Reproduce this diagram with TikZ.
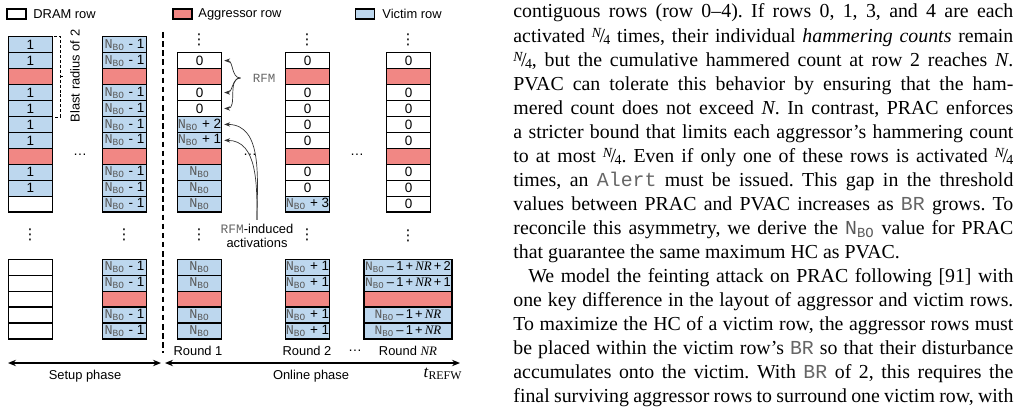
\documentclass[tikz,border=0pt]{standalone}
\usepackage{fontspec}
\setmainfont{Liberation Serif}
\setsansfont{Liberation Sans}
\setmonofont{Liberation Mono}
\newfontfamily\symfont{DejaVu Sans}
\usetikzlibrary{arrows.meta}
\definecolor{VictimBlue}{RGB}{189,215,238}
\definecolor{AggRed}{RGB}{241,135,132}
\colorlet{NboGray}{black!65}
\newcommand{\nbo}{{\ttfamily\color{NboGray}N\textsubscript{BO}}}
\newcommand{\nbm}{\nbo{} - 1}
\newcommand{\nbr}[1]{\nbo\,\textendash\,1\,+\,\textit{\rmfamily NR}#1}
\newcommand{\tw}[1]{{\ttfamily\color{black!60}#1}}
\newcommand{\qtr}{\raisebox{0.5ex}{\fontsize{7}{7}\selectfont\itshape N}\kern-0.08em/\kern-0.08em\raisebox{-0.3ex}{\fontsize{7}{7}\selectfont 4}}
\newcommand{\colpar}[1]{\parbox[t]{252pt}{\fontsize{10}{12.1}\selectfont\frenchspacing #1}}
\def\ytop{36.7}
\def\ylow{259.3}
\def\rh{15.95}
\tikzset{
  rowbox/.style={draw=black, line width=0.7pt, minimum width=22.2pt, minimum height=8.04pt,
    inner sep=0pt, font=\sffamily\fontsize{6.8}{8}\selectfont},
  dram/.style={rowbox, fill=white},
  vic/.style={rowbox, fill=VictimBlue},
  agg/.style={rowbox, fill=AggRed},
  wide/.style={minimum width=44.4pt, font=\sffamily\fontsize{6.5}{8}\selectfont},
  legbox/.style={draw=black, line width=0.7pt, minimum width=9.6pt, minimum height=5pt, inner sep=0pt},
  lab/.style={font=\sffamily\fontsize{6.5}{7}\selectfont, inner sep=0pt},
  dts/.style={font=\sffamily\fontsize{7}{8}\selectfont, inner sep=0pt},
  vdts/.style={font=\symfont\fontsize{7.5}{8}\selectfont, inner sep=0pt},
  brack/.style={dash pattern=on 1.5pt off 1pt, line width=0.4pt},
  sepline/.style={dash pattern=on 2.8pt off 1.8pt, line width=0.75pt},
  phase/.style={{Stealth[length=4pt,width=3.2pt]}-{Stealth[length=4pt,width=3.2pt]}, line width=0.7pt},
  curarr/.style={-{Stealth[length=3pt,width=2.2pt]}, line width=0.35pt, black!80},
  body/.style={inner sep=0pt, anchor=base west},
}
\begin{document}
\begin{tikzpicture}[x=0.504pt, y=-0.504pt]
  \useasboundingbox (0,0) rectangle (1017,407);
  % legend
  \node[legbox, fill=white] (legDram) at (16.5,14) {};
  \node[lab, anchor=west] (legDramT) at (33,14) {DRAM row};
  \node[legbox, fill=AggRed] (legAgg) at (182.5,14) {};
  \node[lab, anchor=west] (legAggT) at (198,14) {Aggressor row};
  \node[legbox, fill=VictimBlue] (legVic) at (365,14) {};
  \node[lab, anchor=west] (legVicT) at (382,14) {Victim row};
  % setup phase
  \foreach \k/\kind/\txt in {1/vic/1,2/vic/1,3/agg/{},4/vic/1,5/vic/1,6/vic/1,7/vic/1,8/agg/{},9/vic/1,10/vic/1,11/dram/{}}
    \node[\kind] (setA-\k) at (30.5,{\ytop+\rh*(\k-0.5)}) {\txt};
  \foreach \k/\kind/\txt in {1/vic/\nbm,2/vic/\nbm,3/agg/{},4/vic/\nbm,5/vic/\nbm,6/vic/\nbm,7/vic/\nbm,8/agg/{},9/vic/\nbm,10/vic/\nbm,11/vic/\nbm}
    \node[\kind] (setB-\k) at (124.5,{\ytop+\rh*(\k-0.5)}) {\txt};
  \foreach \k in {1,...,5}
    \node[dram] (setAlo-\k) at (30.5,{\ylow+\rh*(\k-0.5)}) {};
  \foreach \k/\kind/\txt in {1/vic/\nbm,2/vic/\nbm,3/agg/{},4/vic/\nbm,5/vic/\nbm}
    \node[\kind] (setBlo-\k) at (124.5,{\ylow+\rh*(\k-0.5)}) {\txt};
  % blast radius
  \draw[brack] ([xshift=0.5pt]setA-1.north east) -- ++(6,0) coordinate (bTop) |- ([xshift=0.5pt]setA-5.south east);
  \draw[brack] (bTop |- setA-3) -- ++(3.5,0);
  \node[lab, rotate=90] (blast) at (75,76) {Blast radius of 2};
  % online phase, upper rows
  \foreach \k/\kind/\txt in {2/dram/0,3/agg/{},4/dram/0,5/dram/0,6/vic/{\nbo{} + 2},7/vic/{\nbo{} + 1},8/agg/{},9/vic/\nbo,10/vic/\nbo,11/vic/\nbo}
    \node[\kind] (rndA-\k) at (199.5,{\ytop+\rh*(\k-0.5)}) {\txt};
  \foreach \k/\kind/\txt in {2/dram/0,3/agg/{},4/dram/0,5/dram/0,6/dram/0,7/dram/0,8/agg/{},9/dram/0,10/dram/0,11/vic/{\nbo{} + 3}}
    \node[\kind] (rndB-\k) at (307.5,{\ytop+\rh*(\k-0.5)}) {\txt};
  \foreach \k/\kind/\txt in {2/dram/0,3/agg/{},4/dram/0,5/dram/0,6/dram/0,7/dram/0,8/agg/{},9/dram/0,10/dram/0,11/dram/0}
    \node[\kind] (rndC-\k) at (408.5,{\ytop+\rh*(\k-0.5)}) {\txt};
  % online phase, lower rows
  \foreach \k/\kind/\txt in {1/vic/\nbo,2/vic/\nbo,3/agg/{},4/vic/\nbo,5/vic/\nbo}
    \node[\kind] (rndAlo-\k) at (199.5,{\ylow+\rh*(\k-0.5)}) {\txt};
  \foreach \k/\kind/\txt in {1/vic/{\nbo{} + 1},2/vic/{\nbo{} + 1},3/agg/{},4/vic/{\nbo{} + 1},5/vic/{\nbo{} + 1}}
    \node[\kind] (rndBlo-\k) at (307.5,{\ylow+\rh*(\k-0.5)}) {\txt};
  \foreach \k/\kind/\txt in {1/vic/{\nbr{\,+\,2}},2/vic/{\nbr{\,+\,1}},3/agg/{},4/vic/{\nbr{}},5/vic/{\nbr{}}}
    \node[\kind, wide] (rndClo-\k) at (408,{\ylow+\rh*(\k-0.5)}) {\txt};
  % dots
  \foreach \n/\px/\py in {a/199/40,b/307/40,c/408/40,d/30/235,e/124/235,f/199/235,g/307/235,h/408/236}
    \node[vdts] (vd-\n) at (\px,\py) {⋮};
  \foreach \n/\px/\py in {a/80/155,b/250/155,c/357/155,d/355/351}
    \node[dts] (hd-\n) at (\px,\py) {\dots};
  % RFM arrows
  \node[font=\ttfamily\fontsize{6.3}{7}\selectfont, text=black!60, inner sep=0pt] (rfm) at (264,78) {RFM};
  \coordinate (cusp) at ([xshift=-6pt]rfm.west);
  \foreach \k in {2,4,5}
    \draw[curarr] (cusp) to[out=180, in=0] ([xshift=1pt]rndA-\k.east);
  \node[lab, align=center, font=\sffamily\fontsize{6.5}{7}\selectfont] (ind) at (257,236) {{\ttfamily\color{black!60}RFM}-induced\\activations};
  \coordinate (indTop) at ([yshift=2pt]ind.north);
  \foreach \k in {6,7}
    \draw[curarr] (indTop) to[out=90, in=0] ([xshift=1pt]rndA-\k.east);
  % time line
  \draw[sepline] (163,32) -- (163,353);
  \coordinate (t0) at (8,363);
  \coordinate (t1) at (161,363);
  \coordinate (t2) at (165,363);
  \coordinate (t3) at (460,363);
  \draw[phase] (t0) -- (t1);
  \draw[phase] (t2) -- (t3);
  \node[lab] (r1) at (198,351) {Round 1};
  \node[lab] (r2) at (307,351) {Round 2};
  \node[lab] (rN) at (408,351) {Round \textit{\rmfamily NR}};
  \node[lab] (setup) at (85,376) {Setup phase};
  \node[lab] (online) at (311,376) {Online phase};
  \node[font=\rmfamily\fontsize{8.5}{9}\selectfont, inner sep=0pt] (trefw) at (443,374) {\textit{t}\textsubscript{REFW}};
  % text column
  \node[body] (para1) at (513,18) {\colpar{contiguous rows (row 0--4). If rows 0, 1, 3, and 4 are each\linebreak
    activated \qtr{} times, their individual \emph{hammering counts} remain\linebreak
    \qtr, but the cumulative hammered count at row 2 reaches \textit{N}.\linebreak
    PVAC can tolerate this behavior by ensuring that the ham-\linebreak
    mered count does not exceed \textit{N}. In contrast, PRAC enforces\linebreak
    a stricter bound that limits each aggressor's hammering count\linebreak
    to at most \qtr. Even if only one of these rows is activated \qtr\linebreak
    times, an \tw{Alert} must be issued. This gap in the threshold\linebreak
    values between PRAC and PVAC increases as \tw{BR} grows. To\linebreak
    reconcile this asymmetry, we derive the \nbo{} value for PRAC\linebreak
    that guarantee the same maximum HC as PVAC.}};
  \node[body] (para2) at (513,282) {\colpar{\hspace*{7.5pt}We model the feinting attack on PRAC following [91] with\linebreak
    one key difference in the layout of aggressor and victim rows.\linebreak
    To maximize the HC of a victim row, the aggressor rows must\linebreak
    be placed within the victim row's \tw{BR} so that their disturbance\linebreak
    accumulates onto the victim. With \tw{BR} of 2, this requires the\linebreak
    final surviving aggressor rows to surround one victim row, with\linebreak}};
\end{tikzpicture}
\end{document}
